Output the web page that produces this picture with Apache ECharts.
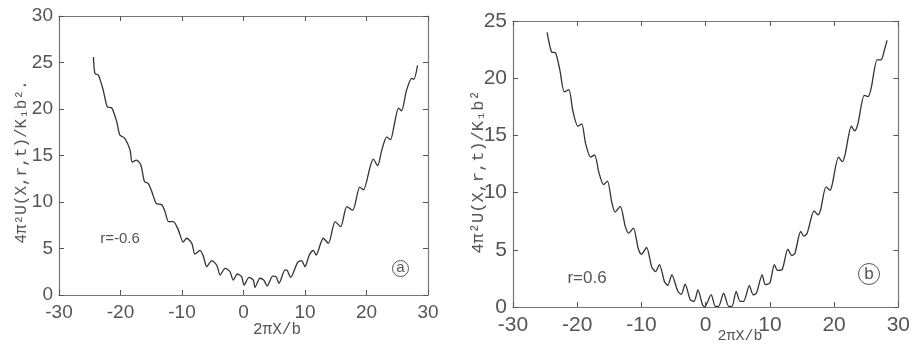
<!DOCTYPE html>
<html>
<head>
<meta charset="utf-8">
<script src="https://cdn.jsdelivr.net/npm/echarts@6/dist/echarts.min.js"></script>
<style>
  html, body { margin: 0; padding: 0; background: #fff; }
  #chart { width: 913px; height: 349px; }
</style>
</head>
<body>
<div id="chart"></div>
<script>
// panel (a), r = -0.6
const leftX = [-24.4, -24.15, -23.6, -22.8, -22.15, -21.4, -20.6, -20.1, -19.3, -18.45,
  -18.1, -17.4, -16.7, -16.1, -15.5, -14.9, -14.2, -13.3, -12.76, -12.2,
  -11.4, -10.6, -9.8, -9.24, -8.4, -7.9, -7.07, -6.5, -5.98, -5.17,
  -4.35, -3.8, -3.0, -2.2, -1.66, -1.0, -0.3, 0.08, 0.9, 1.6,
  1.87, 2.68, 3.3, 3.87, 4.74, 5.28, 5.77, 6.75, 7.1, 7.67,
  8.8, 9.45, 10.0, 10.7, 11.35, 11.8, 12.98, 13.8, 14.9, 15.8,
  16.8, 17.75, 18.9, 19.5, 20.6, 21.1, 21.8, 22.5, 23.3, 23.9,
  24.6, 25.2, 25.7, 26.5, 27.35, 27.7, 28.3];
const leftY = [25.6, 23.8, 23.65, 22.0, 20.25, 20.1, 18.6, 17.2, 16.85, 15.6,
  14.3, 14.5, 14.0, 12.2, 12.0, 11.1, 9.85, 9.7, 8.96, 7.9,
  7.9, 7.0, 5.7, 6.1, 5.55, 4.4, 4.8, 4.1, 3.05, 3.7,
  3.2, 2.15, 2.87, 2.5, 1.6, 2.26, 1.97, 1.07, 1.9, 1.6,
  0.82, 1.8, 1.6, 0.97, 2.04, 1.97, 1.25, 2.7, 2.65, 1.9,
  3.5, 3.7, 3.05, 4.3, 4.8, 4.3, 6.1, 5.55, 7.9, 7.35,
  9.5, 9.1, 11.6, 11.3, 13.8, 14.6, 13.9, 15.6, 17.0, 16.7,
  18.6, 20.1, 19.8, 22.0, 23.3, 23.2, 24.7];

// panel (b), r = 0.6
const rightX = [-24.69, -24.0, -23.36, -22.7, -22.0, -21.3, -20.7, -19.9, -19.3, -18.7,
  -17.9, -17.3, -16.6, -15.9, -15.3, -14.6, -14.1, -13.3, -12.5, -12.0,
  -11.25, -10.5, -10.0, -9.2, -8.4, -7.8, -7.2, -6.4, -5.9, -5.27,
  -4.35, -3.8, -3.2, -2.4, -1.8, -1.2, -0.5, -0.16, 0.86, 1.5,
  2.0, 2.8, 3.6, 4.1, 4.75, 5.36, 5.9, 6.8, 7.4, 7.9,
  8.8, 9.3, 10.0, 10.7, 11.2, 11.9, 12.8, 13.4, 13.9, 14.8,
  15.3, 15.8, 16.9, 17.5, 17.9, 18.75, 19.4, 19.7, 20.7, 21.3,
  21.7, 22.7, 23.2, 23.7, 24.7, 25.3, 25.8, 26.7, 27.3, 27.8, 28.25];
const rightY = [24.0, 22.3, 22.2, 20.7, 18.8, 19.0, 17.2, 15.8, 16.0, 14.3,
  13.1, 13.3, 11.7, 10.7, 11.0, 9.1, 8.3, 8.8, 7.0, 6.45,
  6.9, 5.1, 4.6, 5.2, 3.5, 3.1, 3.7, 2.2, 1.9, 2.8,
  1.4, 1.1, 2.0, 0.64, 0.5, 1.5, 0.2, 0, 1.08, 0.06,
  0.06, 1.2, 0.06, 0.06, 1.37, 0.5, 0.5, 1.86, 1.07, 1.2,
  2.8, 1.95, 2.1, 3.7, 3.2, 3.26, 5.06, 4.5, 4.7, 6.6,
  6.2, 6.45, 8.4, 8.05, 8.5, 10.5, 10.2, 10.7, 13.1, 12.7,
  13.3, 15.8, 15.4, 16.0, 18.5, 18.4, 19.2, 21.6, 21.6, 22.4, 23.3];

const xTicks = [-30, 30, 10];
const leftYRange = [0, 30, 5];
const rightYRange = [0, 25, 5];

const frameColor = '#777';
const labelColor = '#555';
const numFont = '"Liberation Sans Narrow", "Liberation Sans", sans-serif';
const monoFont = '"Liberation Mono", "DejaVu Sans Mono", monospace';

function pairs(xs, ys) {
  return xs.map((x, i) => [x, ys[i]]);
}

function xAxisOf(grid, pos, fontSize) {
  return {
    type: 'value', gridIndex: grid, position: pos,
    min: xTicks[0], max: xTicks[1], interval: xTicks[2],
    axisLine: { show: true, onZero: false, lineStyle: { color: frameColor, width: 1.2 } },
    axisTick: { show: true, inside: true, length: 5, lineStyle: { color: '#555' } },
    axisLabel: {
      show: pos === 'bottom', margin: 8, color: labelColor,
      fontFamily: numFont, fontSize: fontSize
    },
    splitLine: { show: false }
  };
}

function yAxisOf(grid, pos, range, fontSize) {
  return {
    type: 'value', gridIndex: grid, position: pos,
    min: range[0], max: range[1], interval: range[2],
    axisLine: { show: true, onZero: false, lineStyle: { color: frameColor, width: 1.2 } },
    axisTick: { show: true, inside: true, length: 5, lineStyle: { color: '#555' } },
    axisLabel: {
      show: pos === 'left', margin: 6, color: labelColor,
      fontFamily: numFont, fontSize: fontSize
    },
    splitLine: { show: false }
  };
}

function curve(xi, yi, xs, ys) {
  return {
    type: 'line', xAxisIndex: xi, yAxisIndex: yi,
    data: pairs(xs, ys),
    showSymbol: false, smooth: 0.25,
    lineStyle: { color: '#333', width: 1.3 },
    silent: true, animation: false
  };
}

const chart = echarts.init(document.getElementById('chart'));
chart.setOption({
  backgroundColor: '#fff',
  animation: false,
  grid: [
    { left: 59, top: 16, width: 369, height: 279 },
    { left: 513, top: 21, width: 391, height: 286 }
  ],
  xAxis: [
    xAxisOf(0, 'bottom', 19), xAxisOf(0, 'top', 19),
    xAxisOf(1, 'bottom', 21), xAxisOf(1, 'top', 21)
  ],
  yAxis: [
    yAxisOf(0, 'left', leftYRange, 19), yAxisOf(0, 'right', leftYRange, 19),
    yAxisOf(1, 'left', rightYRange, 21), yAxisOf(1, 'right', rightYRange, 21)
  ],
  series: [
    curve(0, 0, leftX, leftY),
    curve(2, 2, rightX, rightY)
  ],
  graphic: [
    { type: 'text', x: 22, y: 162, rotation: Math.PI / 2,
      style: { text: '4π²U(X,r,t)/K₁b².', font: '16px ' + monoFont, fill: labelColor,
        align: 'center', verticalAlign: 'middle' } },
    { type: 'text', x: 478, y: 172, rotation: Math.PI / 2,
      style: { text: '4π²U(X,r,t)/K₁b²', font: '17px ' + monoFont, fill: labelColor,
        align: 'center', verticalAlign: 'middle' } },
    { type: 'text', x: 277, y: 330,
      style: { text: '2πX/b', font: '16px ' + monoFont, fill: labelColor,
        align: 'center', verticalAlign: 'middle' } },
    { type: 'text', x: 740, y: 336,
      style: { text: '2πX/b', font: '15px ' + monoFont, fill: labelColor,
        align: 'center', verticalAlign: 'middle' } },
    { type: 'text', x: 120, y: 239,
      style: { text: 'r=-0.6', font: '15px ' + numFont, fill: labelColor,
        align: 'center', verticalAlign: 'middle' } },
    { type: 'text', x: 587, y: 278,
      style: { text: 'r=0.6', font: '17px ' + numFont, fill: labelColor,
        align: 'center', verticalAlign: 'middle' } },
    { type: 'circle', shape: { cx: 400.5, cy: 268.5, r: 8 },
      style: { fill: 'none', stroke: '#555', lineWidth: 1 } },
    { type: 'text', x: 400.5, y: 268,
      style: { text: 'a', font: '15px ' + numFont, fill: labelColor,
        align: 'center', verticalAlign: 'middle' } },
    { type: 'circle', shape: { cx: 869, cy: 274, r: 10.5 },
      style: { fill: 'none', stroke: '#555', lineWidth: 1 } },
    { type: 'text', x: 869, y: 274,
      style: { text: 'b', font: '17px ' + numFont, fill: labelColor,
        align: 'center', verticalAlign: 'middle' } }
  ]
});
</script>
</body>
</html>
